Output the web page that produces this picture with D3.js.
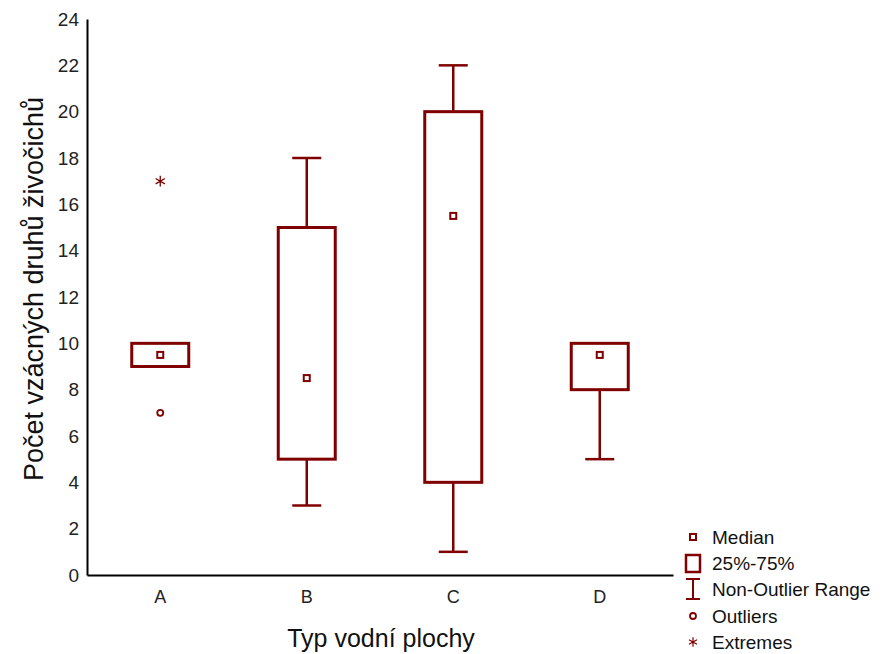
<!DOCTYPE html>
<html><head><meta charset="utf-8">
<script src="https://cdn.jsdelivr.net/npm/d3@7"></script>
<style>body{margin:0;background:#fff;}svg{display:block;font-family:"Liberation Sans",Arial,sans-serif;}</style>
</head><body>
<svg id="c" width="883" height="654"></svg>
<script>
const categories = ["A","B","C","D"];
const medians = [9.5, 8.5, 15.5, 9.5];
const q1 = [9, 5, 4, 8];
const q3 = [10, 15, 20, 10];
const whiskLow = [9, 3, 1, 5];
const whiskHigh = [10, 18, 22, 10];
const outliers = [[7], [], [], []];
const extremes = [[17], [], [], []];
const yTicks = [0,2,4,6,8,10,12,14,16,18,20,22,24];
const legendItems = ["Median","25%-75%","Non-Outlier Range","Outliers","Extremes"];

const col = "#800000";
const svg = d3.select("#c");
const x = d3.scaleBand().domain(categories).range([87, 673]);
const y = d3.scaleLinear().domain([0, 24]).range([575, 19]);

// axes
const yAx = svg.append("g").attr("transform","translate(87,0)")
  .call(d3.axisLeft(y).tickValues(yTicks).tickSize(0).tickPadding(8));
yAx.select(".domain").attr("stroke","#000").attr("stroke-width",2);
yAx.selectAll("text").attr("font-size",19).attr("fill","#222").attr("font-family","Liberation Sans, Arial, sans-serif");
const xAx = svg.append("g").attr("transform","translate(0,575)")
  .call(d3.axisBottom(x).tickSize(0).tickPadding(15));
xAx.select(".domain").attr("stroke","#000").attr("stroke-width",2);
xAx.selectAll("text").attr("font-size",18).attr("fill","#222").attr("font-family","Liberation Sans, Arial, sans-serif");

svg.append("text").attr("transform","translate(43,289) rotate(-90)").attr("text-anchor","middle")
  .attr("font-size",27).attr("fill","#111").text("Počet vzácných druhů živočichů");
svg.append("text").attr("x",381).attr("y",647).attr("text-anchor","middle")
  .attr("font-size",25).attr("fill","#111").text("Typ vodní plochy");

const bw = 57, cw = 29;
categories.forEach((c,i)=>{
  const cx = x(c) + x.bandwidth()/2;
  const g = svg.append("g");
  // whiskers
  g.append("line").attr("x1",cx).attr("x2",cx).attr("y1",y(whiskHigh[i])).attr("y2",y(q3[i])).attr("stroke",col).attr("stroke-width",2.5);
  g.append("line").attr("x1",cx).attr("x2",cx).attr("y1",y(q1[i])).attr("y2",y(whiskLow[i])).attr("stroke",col).attr("stroke-width",2.5);
  g.append("line").attr("x1",cx-cw/2).attr("x2",cx+cw/2).attr("y1",y(whiskHigh[i])).attr("y2",y(whiskHigh[i])).attr("stroke",col).attr("stroke-width",2.5);
  g.append("line").attr("x1",cx-cw/2).attr("x2",cx+cw/2).attr("y1",y(whiskLow[i])).attr("y2",y(whiskLow[i])).attr("stroke",col).attr("stroke-width",2.5);
  // box
  g.append("rect").attr("x",cx-bw/2).attr("width",bw).attr("y",y(q3[i])).attr("height",y(q1[i])-y(q3[i]))
    .attr("fill","#fff").attr("stroke",col).attr("stroke-width",3);
  // median
  g.append("rect").attr("x",cx-3).attr("y",y(medians[i])-3).attr("width",6).attr("height",6)
    .attr("fill","#fff").attr("stroke",col).attr("stroke-width",2);
  outliers[i].forEach(v=>{
    g.append("circle").attr("cx",cx).attr("cy",y(v)).attr("r",3).attr("fill","#fff").attr("stroke",col).attr("stroke-width",1.8);
  });
  extremes[i].forEach(v=>{
    const s = d3.symbol().type(d3.symbolAsterisk).size(80);
    g.append("path").attr("d",s()).attr("transform",`translate(${cx},${y(v)})`).attr("fill","none").attr("stroke",col).attr("stroke-width",1.3);
  });
});

// legend
const lx = 693, ly = [537, 563, 589, 616, 642];
const lg = svg.append("g");
legendItems.forEach((t,i)=>{
  lg.append("text").attr("x",712).attr("y",ly[i]+7).attr("font-size",19).attr("fill","#111").text(t);
});
lg.append("rect").attr("x",lx-3).attr("y",ly[0]-3).attr("width",6).attr("height",6).attr("fill","#fff").attr("stroke",col).attr("stroke-width",2);
lg.append("rect").attr("x",lx-7).attr("y",ly[1]-8).attr("width",14).attr("height",17).attr("fill","#fff").attr("stroke",col).attr("stroke-width",2.5);
lg.append("line").attr("x1",lx).attr("x2",lx).attr("y1",ly[2]-10).attr("y2",ly[2]+10).attr("stroke",col).attr("stroke-width",2);
lg.append("line").attr("x1",lx-7).attr("x2",lx+7).attr("y1",ly[2]-10).attr("y2",ly[2]-10).attr("stroke",col).attr("stroke-width",2);
lg.append("line").attr("x1",lx-7).attr("x2",lx+7).attr("y1",ly[2]+10).attr("y2",ly[2]+10).attr("stroke",col).attr("stroke-width",2);
lg.append("circle").attr("cx",lx).attr("cy",ly[3]).attr("r",3).attr("fill","#fff").attr("stroke",col).attr("stroke-width",1.8);
lg.append("path").attr("d",d3.symbol().type(d3.symbolAsterisk).size(60)()).attr("transform",`translate(${lx},${ly[4]})`).attr("fill","none").attr("stroke",col).attr("stroke-width",1.2);
</script>
</body></html>
